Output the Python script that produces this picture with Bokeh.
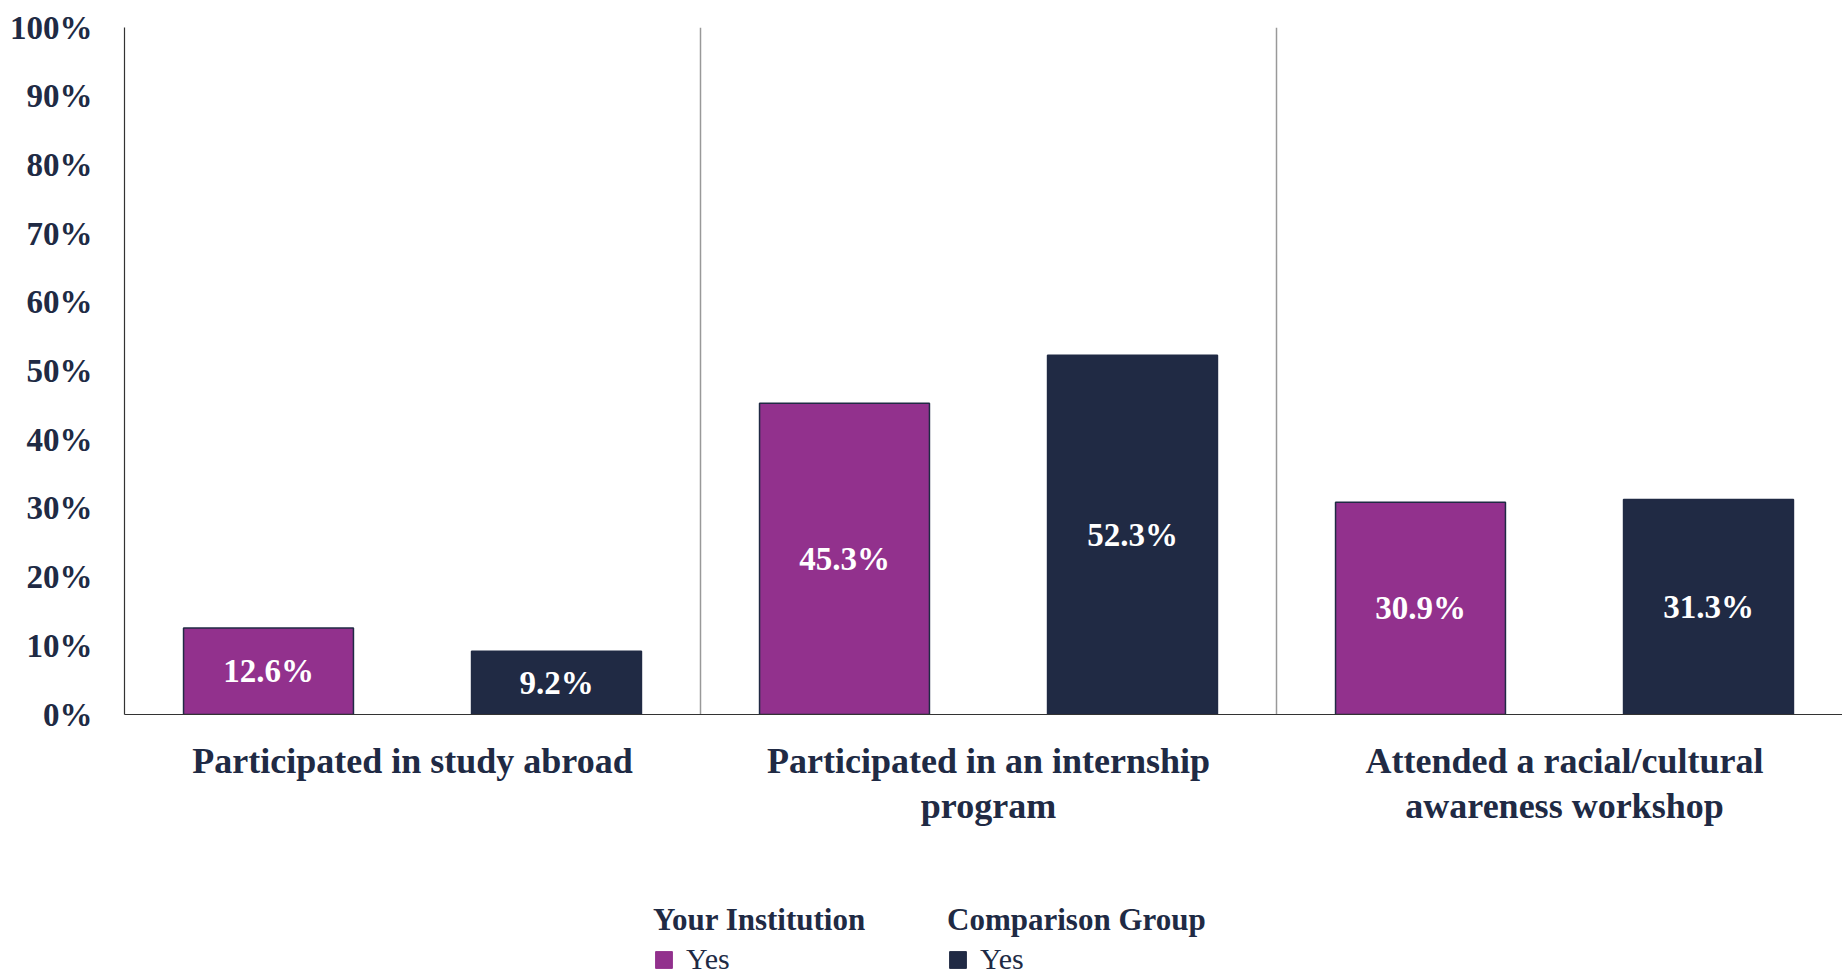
import numpy as np
from bokeh.plotting import figure
from bokeh.layouts import column
from bokeh.models import (ColumnDataSource, Range1d, FixedTicker, PrintfTickFormatter,
                          Legend, LegendItem)
from bokeh.transform import dodge
from bokeh.core.properties import value
from bokeh.embed import file_html
from bokeh.resources import INLINE

# ---- data ----
categories = [
    "Participated in study abroad",
    "Participated in an internship\nprogram",
    "Attended a racial/cultural\nawareness workshop",
]
your_institution = [12.6, 45.3, 30.9]
comparison_group = [9.2, 52.3, 31.3]
series_names = ["Your Institution", "Comparison Group"]
legend_label = "Yes"
y_ticks = [0, 10, 20, 30, 40, 50, 60, 70, 80, 90, 100]

# ---- style ----
PURPLE = "#92318D"
NAVY = "#202A44"
FONT = "Liberation Serif"

idx = np.arange(len(categories))
src = ColumnDataSource(dict(
    center=idx + 0.5,
    inst=your_institution,
    comp=comparison_group,
    inst_mid=[v / 2 for v in your_institution],
    comp_mid=[v / 2 for v in comparison_group],
    inst_lab=[f"{v:.1f}%" for v in your_institution],
    comp_lab=[f"{v:.1f}%" for v in comparison_group],
))

p = figure(width=1842, height=890, output_backend="svg", toolbar_location=None,
           x_range=Range1d(0, 1718 / 576), y_range=Range1d(0, 100),
           min_border_left=124, min_border_right=0, min_border_top=27,
           min_border_bottom=176)
p.outline_line_color = None
p.background_fill_color = "white"
p.border_fill_color = "white"

r_inst = p.vbar(x=dodge("center", -0.25), top="inst", bottom=0, width=0.295, source=src,
                fill_color=PURPLE, line_color=NAVY, line_width=1.5)
r_comp = p.vbar(x=dodge("center", 0.25), top="comp", bottom=0, width=0.295, source=src,
                fill_color=NAVY, line_color=NAVY, line_width=1.5)

for xcol, ycol, tcol in ((dodge("center", -0.25), "inst_mid", "inst_lab"),
                         (dodge("center", 0.25), "comp_mid", "comp_lab")):
    p.text(x=xcol, y=ycol, text=tcol, source=src, text_color="white",
           text_font=value(FONT), text_font_style="bold", text_font_size="33px",
           text_align="center", text_baseline="middle")

# y axis
p.yaxis.ticker = FixedTicker(ticks=y_ticks)
p.yaxis.formatter = PrintfTickFormatter(format="%d%%")
p.yaxis.major_tick_line_color = None
p.yaxis.minor_tick_line_color = None
p.yaxis.axis_line_color = "#333333"
p.yaxis.axis_line_width = 1.2
p.yaxis.major_label_text_font = FONT
p.yaxis.major_label_text_font_style = "bold"
p.yaxis.major_label_text_font_size = "33px"
p.yaxis.major_label_text_color = NAVY
p.yaxis.major_label_standoff = 26

# x axis
centers = [float(i) + 0.5 for i in range(len(categories))]
p.xaxis.ticker = FixedTicker(ticks=centers)
p.xaxis.major_label_overrides = {c: lab for c, lab in zip(centers, categories)}
p.xaxis.major_tick_line_color = None
p.xaxis.minor_tick_line_color = None
p.xaxis.axis_line_color = "#333333"
p.xaxis.axis_line_width = 1.2
p.xaxis.major_label_text_font = FONT
p.xaxis.major_label_text_font_style = "bold"
p.xaxis.major_label_text_font_size = "36px"
p.xaxis.major_label_text_line_height = 1.13
p.xaxis.major_label_text_color = NAVY
p.xaxis.major_label_standoff = 20

# grid: separators between categories
p.ygrid.grid_line_color = None
p.xgrid.ticker = FixedTicker(ticks=[float(i) for i in range(1, len(categories))])
p.xgrid.grid_line_color = "#999999"
p.xgrid.grid_line_width = 1.5

# ---- legend strip below the chart ----
lf = figure(width=1842, height=86, output_backend="svg", toolbar_location=None,
            x_range=Range1d(0, 1), y_range=Range1d(0, 1),
            x_axis_type=None, y_axis_type=None,
            min_border=0, min_border_left=0, min_border_right=0,
            min_border_top=0, min_border_bottom=0)
lf.outline_line_color = None
lf.grid.visible = False
lf.border_fill_color = "white"

for name, color, xloc in ((series_names[0], PURPLE, 529), (series_names[1], NAVY, 823)):
    # proxy glyph placed outside the visible range; only its legend swatch shows
    proxy = lf.vbar(x=[-10], top=[-10], bottom=[-11], width=0.1,
                    fill_color=color, line_color=color)
    lg = Legend(items=[LegendItem(label=legend_label, renderers=[proxy])],
                location=(xloc, 0), title=name,
                title_text_font=FONT, title_text_font_style="bold",
                title_text_font_size="31px", title_text_color=NAVY,
                title_standoff=4,
                label_text_font=FONT, label_text_font_size="30px",
                label_text_color=NAVY, label_standoff=12,
                glyph_width=21, glyph_height=21, padding=0, margin=0,
                border_line_color=None, background_fill_alpha=0)
    lf.add_layout(lg)

layout = column(p, lf, spacing=0)
open("out.html", "w").write(file_html(layout, INLINE))
